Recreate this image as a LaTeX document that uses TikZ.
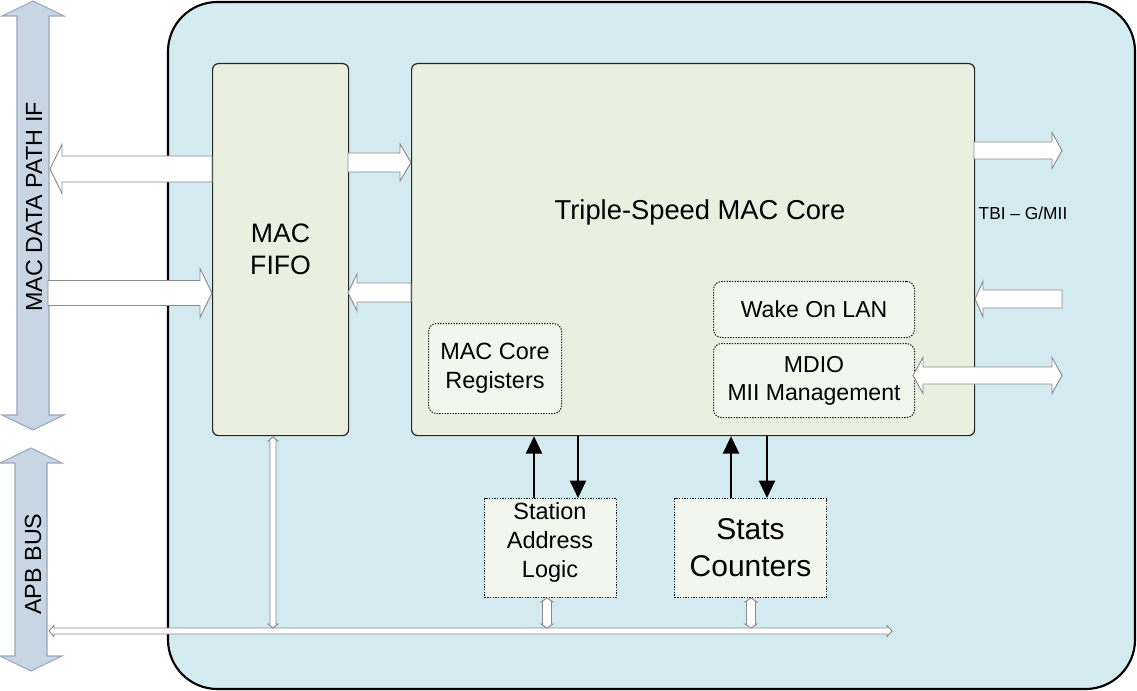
\documentclass[tikz,border=0pt]{standalone}
\usepackage{fontspec}
\setmainfont{Liberation Sans}
\usetikzlibrary{arrows.meta}
\definecolor{outerfill}{HTML}{D2EAF0}
\definecolor{boxfill}{HTML}{EBEFE0}
\definecolor{subfill}{HTML}{F3F6ED}
\definecolor{busfill}{HTML}{C8D5E3}
\definecolor{busline}{HTML}{9AA8B8}
\definecolor{arrline}{HTML}{8A8A8A}
\tikzset{
  outerbox/.style={draw=black, line width=1.6pt, fill=outerfill, rounded corners=37pt},
  mainbox/.style={draw=black!85, line width=0.9pt, fill=boxfill, rounded corners=4.5pt, inner sep=0pt, anchor=north west, align=center},
  subbox/.style={draw=black!90, dash pattern=on 1pt off 1pt, line width=0.8pt, fill=subfill, rounded corners=6pt, inner sep=0pt, anchor=north west, align=center},
  sqbox/.style={subbox, rounded corners=0pt},
  blockarr/.style={draw=arrline, line width=0.7pt, fill=white},
  busarr/.style={draw=busline, line width=0.8pt, fill=busfill},
  blkarr/.style={draw=black, line width=1.5pt, -{Triangle[length=13pt,width=12pt]}},
}
% single horizontal block arrow: tail x, tip x, y, half shaft, half head, signed head length
\newcommand{\myArrowH}[7][blockarr]{%
  \draw[#1] (#2,#4-#5) -- (#3-#7,#4-#5) -- (#3-#7,#4-#6) -- (#3,#4) -- (#3-#7,#4+#6) -- (#3-#7,#4+#5) -- (#2,#4+#5) -- cycle;}
% double horizontal block arrow: left tip, right tip, y, half shaft, half head, head length
\newcommand{\myDArrowH}[7][blockarr]{%
  \draw[#1] (#2,#4) -- (#2+#7,#4-#6) -- (#2+#7,#4-#5) -- (#3-#7,#4-#5) -- (#3-#7,#4-#6) -- (#3,#4) -- (#3-#7,#4+#6) -- (#3-#7,#4+#5) -- (#2+#7,#4+#5) -- (#2+#7,#4+#6) -- cycle;}
% double vertical block arrow: top tip, bottom tip, x, half shaft, half head, head length
\newcommand{\myDArrowV}[7][blockarr]{%
  \draw[#1] (#4,#2) -- (#4+#6,#2+#7) -- (#4+#5,#2+#7) -- (#4+#5,#3-#7) -- (#4+#6,#3-#7) -- (#4,#3) -- (#4-#6,#3-#7) -- (#4-#5,#3-#7) -- (#4-#5,#2+#7) -- (#4-#6,#2+#7) -- cycle;}
\begin{document}
\begin{tikzpicture}[x=0.75pt,y=-0.75pt]
\useasboundingbox (0,0) rectangle (1137,691);
% outer block
\draw[outerbox] (168,2) rectangle (1135,689);
% side buses
\myDArrowV[busarr]{1}{430}{33}{16}{31}{15}
\myDArrowV[busarr]{448}{671}{31}{16}{31}{15}
\node[rotate=90, font=\fontsize{17.5pt}{20pt}\selectfont] (dpif) at (34,207) {MAC DATA PATH IF};
\node[rotate=90, font=\fontsize{17.5pt}{20pt}\selectfont] (apb) at (33,564) {APB BUS};
% main boxes
\node[mainbox, minimum width=102pt, minimum height=279pt, font=\fontsize{20pt}{24pt}\selectfont] (fifo) at (212,63) {MAC\\FIFO};
\node[mainbox, minimum width=422.25pt, minimum height=279pt] (core) at (411,63) {};
\node[font=\fontsize{20.5pt}{24pt}\selectfont] (coretitle) at (700,212) {Triple-Speed MAC Core};
% sub boxes
\node[subbox, minimum width=150.75pt, minimum height=42pt, font=\fontsize{17.3pt}{21pt}\selectfont] (wol) at (713,281) {Wake On LAN};
\node[subbox, minimum width=150.75pt, minimum height=55.5pt, font=\fontsize{17.3pt}{21pt}\selectfont] (mdio) at (713,343) {MDIO\\MII Management};
\node[subbox, minimum width=99.75pt, minimum height=67.5pt, font=\fontsize{17.6pt}{21.75pt}\selectfont] (regs) at (428,323) {MAC Core\\Registers};
\node[sqbox, minimum width=99pt, minimum height=74.25pt] (sal) at (484,498) {};
\node[font=\fontsize{17.6pt}{21.75pt}\selectfont, align=center] (saltext) at (550,542) {Station\\Address\\Logic};
\node[sqbox, minimum width=114pt, minimum height=74.25pt, font=\fontsize{22.5pt}{27.75pt}\selectfont] (stats) at (674,498) {Stats\\Counters};
% TBI label
\node[font=\fontsize{13pt}{15pt}\selectfont, inner sep=0pt] (tbi) at (1023,213) {TBI -- G/MII};
% data path block arrows
\myArrowH{212}{50}{169}{13}{24.5}{-12}
\myArrowH{48}{212}{293}{12.5}{24.5}{12}
\myArrowH{348}{411}{162.5}{9.5}{18.5}{11}
\myArrowH{411}{348}{292.5}{9.5}{18.5}{-9}
\myArrowH{974}{1062}{150.5}{8.5}{18}{10}
\myArrowH{1062}{975}{299}{9}{18}{-8}
\myDArrowH{913}{1062}{375.5}{8.5}{18}{10}
% black control arrows
\coordinate (xa) at (534,0);
\coordinate (xb) at (578,0);
\coordinate (xc) at (731,0);
\coordinate (xd) at (767,0);
\draw[blkarr] (sal.north -| xa) -- (core.south -| xa);
\draw[blkarr] (core.south -| xb) -- (sal.north -| xb);
\draw[blkarr] (stats.north -| xc) -- (core.south -| xc);
\draw[blkarr] (core.south -| xd) -- (stats.north -| xd);
% APB bus inside
\myDArrowH{49}{892}{631}{3}{5.5}{5}
\myDArrowV{437}{628}{273}{3}{5}{4}
\myDArrowV{598}{628}{547}{4.5}{6}{4}
\myDArrowV{598}{628}{751}{4.5}{6}{4}
\end{tikzpicture}
\end{document}
